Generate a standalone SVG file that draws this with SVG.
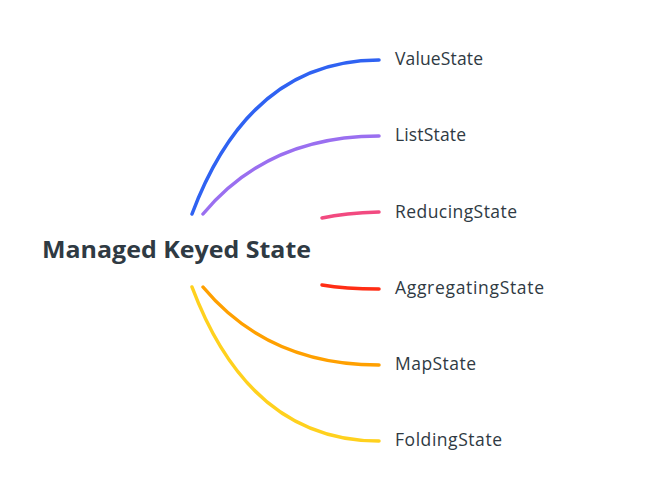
<svg xmlns="http://www.w3.org/2000/svg" width="645" height="489" viewBox="0 0 645 489">
<style>
.c{fill:none;stroke-width:3.5;stroke-linecap:round}
.t{font-family:"Open Sans","Noto Sans",sans-serif;font-size:17.5px;fill:#2f3a43}
.h{font-family:"Open Sans","Noto Sans",sans-serif;font-size:24px;font-weight:bold;fill:#2f3a43}
</style>
<rect width="645" height="489" fill="#fff"/>
<g id="connectors">
<path class="c" stroke="#2f62f2" d="M192,214 Q250,60 379,60"/>
<path class="c" stroke="#9a6ff0" d="M203,214 Q268,136 379,136"/>
<path class="c" stroke="#f24a80" d="M322,218 Q345,213 379,212"/>
<path class="c" stroke="#ff2d14" d="M322,285 Q345,289 379,289"/>
<path class="c" stroke="#ffa000" d="M203,287 Q268,365 379,365"/>
<path class="c" stroke="#ffd11e" d="M192,287 Q250,441 379,441"/>
</g>
<g id="root"><text class="h" x="42" y="258" textLength="269" lengthAdjust="spacingAndGlyphs">Managed Keyed State</text></g>
<g id="n1"><text class="t" x="395" y="65" textLength="88">ValueState</text></g>
<g id="n2"><text class="t" x="395" y="141" textLength="71">ListState</text></g>
<g id="n3"><text class="t" x="395" y="218" textLength="122">ReducingState</text></g>
<g id="n4"><text class="t" x="395" y="294" textLength="149">AggregatingState</text></g>
<g id="n5"><text class="t" x="395" y="370" textLength="81">MapState</text></g>
<g id="n6"><text class="t" x="395" y="446" textLength="107">FoldingState</text></g>
</svg>
